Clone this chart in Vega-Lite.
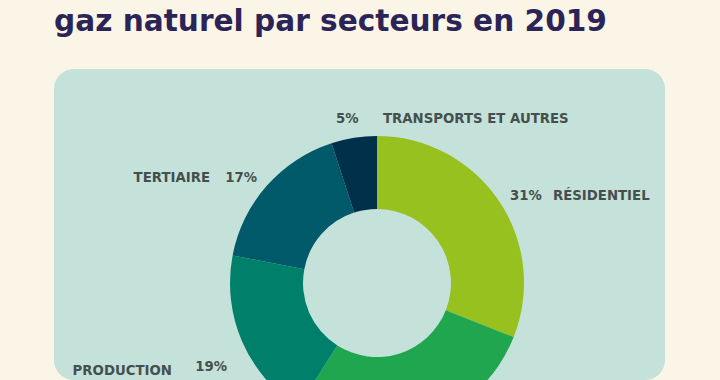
{
  "$schema": "https://vega.github.io/schema/vega-lite/v6.json",
  "width": 611,
  "height": 311,
  "autosize": {"type": "none"},
  "padding": {"left": 54, "top": 69, "right": 55, "bottom": 0},
  "background": "#fbf5e7",
  "view": {"stroke": null, "fill": "#c4e2da", "cornerRadius": 20},
  "title": {
    "text": "gaz naturel par secteurs en 2019",
    "anchor": "start",
    "frame": "group",
    "font": "DejaVu Sans",
    "fontSize": 29.6,
    "fontWeight": "bold",
    "color": "#2b2457",
    "offset": 8,
    "baseline": "alphabetic"
  },
  "config": {
    "view": {"stroke": null},
    "text": {"font": "DejaVu Sans", "fontSize": 13.3, "fontWeight": "bold", "color": "#454f4d", "baseline": "alphabetic"}
  },
  "data": {
    "values": [
      {"secteur": "Résidentiel", "part": 31, "ordre": 1, "nom": "RÉSIDENTIEL", "pct": "31%"},
      {"secteur": "Industrie", "part": 28, "ordre": 2, "nom": "INDUSTRIE", "pct": "28%"},
      {"secteur": "Production", "part": 19, "ordre": 3, "nom": "PRODUCTION", "pct": "19%"},
      {"secteur": "Tertiaire", "part": 17, "ordre": 4, "nom": "TERTIAIRE", "pct": "17%"},
      {"secteur": "Transports et autres", "part": 5, "ordre": 5, "nom": "TRANSPORTS ET AUTRES", "pct": "5%"}
    ]
  },
  "encoding": {
    "theta": {"field": "part", "type": "quantitative", "stack": true},
    "order": {"field": "ordre", "type": "quantitative"}
  },
  "layer": [
    {
      "mark": {"type": "arc", "innerRadius": 74, "outerRadius": 147, "xOffset": 17.5, "yOffset": 58.5},
      "encoding": {
        "color": {
          "field": "secteur",
          "type": "nominal",
          "scale": {
            "domain": ["Résidentiel", "Industrie", "Production", "Tertiaire", "Transports et autres"],
            "range": ["#97c11f", "#1fa64f", "#00806a", "#005a6a", "#00304a"]
          },
          "legend": null
        }
      }
    },
    {
      "mark": {"type": "text", "radius": 160, "xOffset": 17.5, "yOffset": 58.5, "align": "left", "dx": 0.6, "dy": 6.9},
      "encoding": {"text": {"condition": {"test": "datum.secteur === 'Résidentiel'", "field": "pct"}, "value": ""}}
    },
    {
      "mark": {"type": "text", "radius": 160, "xOffset": 17.5, "yOffset": 58.5, "align": "left", "dx": 43.6, "dy": 6.9},
      "encoding": {"text": {"condition": {"test": "datum.secteur === 'Résidentiel'", "field": "nom"}, "value": ""}}
    },
    {
      "mark": {"type": "text", "radius": 160, "xOffset": 17.5, "yOffset": 58.5, "align": "right", "dx": 0, "dy": 4.8},
      "encoding": {"text": {"condition": {"test": "datum.secteur === 'Tertiaire'", "field": "pct"}, "value": ""}}
    },
    {
      "mark": {"type": "text", "radius": 160, "xOffset": 17.5, "yOffset": 58.5, "align": "right", "dx": -47, "dy": 4.8},
      "encoding": {"text": {"condition": {"test": "datum.secteur === 'Tertiaire'", "field": "nom"}, "value": ""}}
    },
    {
      "mark": {"type": "text", "radius": 160, "xOffset": 17.5, "yOffset": 58.5, "align": "right", "dx": -3.2, "dy": 24.8},
      "encoding": {"text": {"condition": {"test": "datum.secteur === 'Production'", "field": "pct"}, "value": ""}}
    },
    {
      "mark": {"type": "text", "radius": 160, "xOffset": 17.5, "yOffset": 58.5, "align": "right", "dx": -58.2, "dy": 28.2},
      "encoding": {"text": {"condition": {"test": "datum.secteur === 'Production'", "field": "nom"}, "value": ""}}
    },
    {
      "mark": {"type": "text", "radius": 160, "xOffset": 17.5, "yOffset": 58.5, "align": "left", "dx": -16, "dy": -2},
      "encoding": {"text": {"condition": {"test": "datum.secteur === 'Transports et autres'", "field": "pct"}, "value": ""}}
    },
    {
      "mark": {"type": "text", "radius": 160, "xOffset": 17.5, "yOffset": 58.5, "align": "left", "dx": 31, "dy": -2},
      "encoding": {"text": {"condition": {"test": "datum.secteur === 'Transports et autres'", "field": "nom"}, "value": ""}}
    }
  ]
}
